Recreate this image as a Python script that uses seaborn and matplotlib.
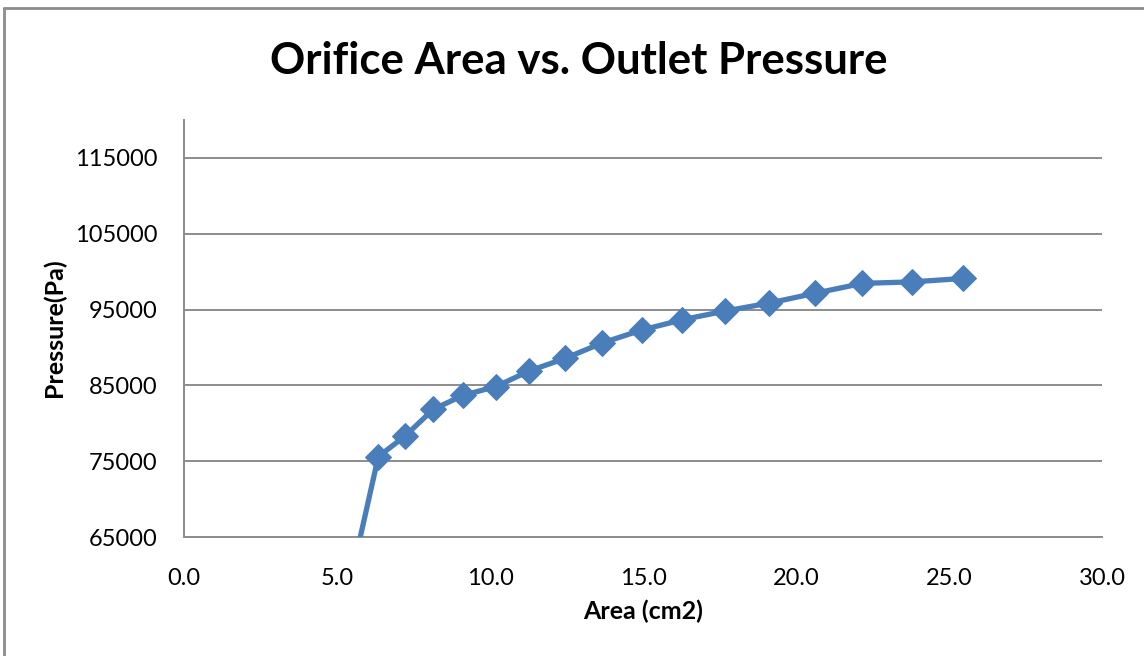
import matplotlib
matplotlib.use("Agg")
import matplotlib.pyplot as plt
import seaborn as sns
import pandas as pd
from matplotlib.lines import Line2D

# Orifice area (cm2) and measured outlet pressure (Pa)
area_cm2 = [5.4, 6.35, 7.22, 8.15, 9.13, 10.2, 11.28, 12.45, 13.67, 14.96,
            16.28, 17.68, 19.12, 20.62, 22.17, 23.79, 25.47]
pressure_pa = [58500, 75600, 78300, 81850, 83700, 84850, 86900, 88550, 90600, 92300,
               93650, 94800, 95850, 97150, 98450, 98650, 99100]

x_ticks = [0, 5, 10, 15, 20, 25, 30]
y_ticks = [65000, 75000, 85000, 95000, 105000, 115000]

sns.set_theme(style="white")
plt.rcParams["font.family"] = ["Lato", "DejaVu Sans"]
plt.rcParams["text.color"] = "black"

df = pd.DataFrame({"Area": area_cm2, "Pressure": pressure_pa})

fig = plt.figure(figsize=(11.44, 6.56), dpi=100)
ax = fig.add_axes([184 / 1144, 1 - 537 / 656, (1102 - 184) / 1144, (537 - 120) / 656])

blue = "#4A7EBB"
sns.lineplot(data=df, x="Area", y="Pressure", ax=ax, color=blue, linewidth=3.8,
             marker="D", markersize=13, markeredgecolor=blue, sort=False, zorder=3)

ax.set_xlim(0, 30)
ax.set_ylim(65000, 120000)
ax.set_xticks(x_ticks)
ax.set_xticklabels([f"{v:.1f}" for v in x_ticks])
ax.set_yticks(y_ticks)
ax.set_yticklabels([str(v) for v in y_ticks])
ax.tick_params(axis="both", length=0, labelsize=17, colors="black")
ax.tick_params(axis="x", pad=22)
ax.tick_params(axis="y", pad=19)

ax.grid(axis="y", color="#8c8c8c", linewidth=1.4)
ax.grid(axis="x", visible=False)
for side in ("top", "right"):
    ax.spines[side].set_visible(False)
for side in ("left", "bottom"):
    ax.spines[side].set_color("#8c8c8c")
    ax.spines[side].set_linewidth(1.4)

ax.set_xlabel("Area (cm2)", fontsize=18, fontweight="bold", color="black", va="center")
ax.set_ylabel("Pressure(Pa)", fontsize=18, fontweight="bold", color="black", va="center")
ax.xaxis.set_label_coords(0.5, (537 - 611) / 417)
ax.yaxis.set_label_coords((54 - 184) / 918, 0.501)

fig.text(579 / 1144, 1 - 61 / 656, "Orifice Area vs. Outlet Pressure",
         ha="center", va="center", fontsize=31.5, fontweight="bold", color="black")

# Chart frame
fig.add_artist(Line2D([4 / 1144, 4 / 1144], [0, 1 - 7.5 / 656],
                      transform=fig.transFigure, color="#8c8c8c", linewidth=2))
fig.add_artist(Line2D([4 / 1144, 1], [1 - 7.5 / 656, 1 - 7.5 / 656],
                      transform=fig.transFigure, color="#8c8c8c", linewidth=2))

fig.savefig("out.png", dpi=100)
